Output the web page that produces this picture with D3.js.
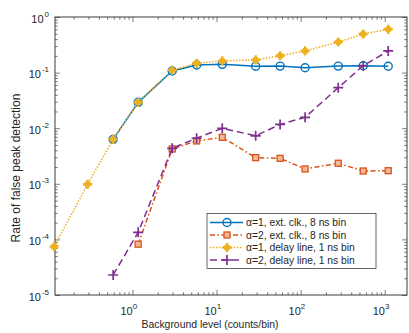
<!DOCTYPE html>
<html><head><meta charset="utf-8">
<script src="https://cdn.jsdelivr.net/npm/d3@7"></script>
<style>
html,body{margin:0;padding:0;background:#fff;}
svg{display:block;font-family:"Liberation Sans",Arial,sans-serif;}
</style></head>
<body>
<svg id="c" width="409" height="333"></svg>
<script>
// ---- data ----
const xAll = [0.117, 0.293, 0.59, 1.17, 2.97, 5.8, 11.7, 29.2, 57, 113, 280, 555, 1100];
const xBlue = xAll.slice(2);
const xOrange = xAll.slice(3);
const xYellow = xAll;
const xPurple = xAll.slice(2);
const yBlue = [0.0063, 0.0292, 0.107, 0.137, 0.141, 0.130, 0.131, 0.122, 0.131, 0.133, 0.130];
const yOrange = [8.2e-5, 0.00423, 0.0059, 0.00686, 0.00295, 0.00287, 0.00185, 0.00234, 0.0017, 0.00172];
const yYellow = [7.4e-5, 0.00098, 0.0063, 0.0292, 0.111, 0.147, 0.162, 0.169, 0.201, 0.245, 0.355, 0.495, 0.601];
const yPurple = [2.29e-5, 1.34e-4, 0.00435, 0.0066, 0.00995, 0.0073, 0.0117, 0.0157, 0.0535, 0.133, 0.245];
const seriesNames = ["α=1, ext. clk., 8 ns bin", "α=2, ext. clk., 8 ns bin", "α=1, delay line, 1 ns bin", "α=2, delay line, 1 ns bin"];
const xTickExps = [0, 1, 2, 3];
const yTickExps = [0, -1, -2, -3, -4, -5];
const xLabel = "Background level (counts/bin)";
const yLabel = "Rate of false peak detection";

// ---- layout ----
const L = 55, R = 407, T = 17, B = 295;
const ink = "#262626";
const svg = d3.select("#c");
const x = d3.scaleLog().domain([0.12, 1840]).range([L, R]);
const y = d3.scaleLog().domain([1e-5, 1]).range([B, T]);

const xMajor = xTickExps.map(e => Math.pow(10, e));
const yMajor = yTickExps.map(e => Math.pow(10, e));
const xMinor = [];
for (let e = -1; e <= 3; e++) for (let k = 2; k <= 9; k++) { const v = k * Math.pow(10, e); if (v >= 0.12 && v <= 1840) xMinor.push(v); }
const yMinor = [];
for (let e = -5; e < 0; e++) for (let k = 2; k <= 9; k++) yMinor.push(k * Math.pow(10, e));

function styleAxis(g) {
  g.select(".domain").remove();
  g.selectAll("line").attr("stroke", ink).attr("stroke-width", 0.6);
  g.selectAll("text").remove();
}
// ticks: bottom, top, left, right (inward)
[[d3.axisBottom, B], [d3.axisTop, T]].forEach(([ax, pos]) => {
  svg.append("g").attr("transform", `translate(0,${pos})`).call(ax(x).tickValues(xMajor).tickSize(-5).tickFormat(() => "")).call(styleAxis);
  svg.append("g").attr("transform", `translate(0,${pos})`).call(ax(x).tickValues(xMinor).tickSize(-2.8).tickFormat(() => "")).call(styleAxis);
});
[[d3.axisLeft, L], [d3.axisRight, R]].forEach(([ax, pos]) => {
  svg.append("g").attr("transform", `translate(${pos},0)`).call(ax(y).tickValues(yMajor).tickSize(-5).tickFormat(() => "")).call(styleAxis);
  svg.append("g").attr("transform", `translate(${pos},0)`).call(ax(y).tickValues(yMinor).tickSize(-2.8).tickFormat(() => "")).call(styleAxis);
});
// box
svg.append("rect").attr("x", L).attr("y", T).attr("width", R - L).attr("height", B - T)
  .attr("fill", "none").attr("stroke", ink).attr("stroke-width", 0.9);

// tick labels
xTickExps.forEach(e => {
  const t = svg.append("text").attr("x", x(Math.pow(10, e)) - 3.7).attr("y", 315)
    .attr("text-anchor", "middle").attr("fill", ink).attr("font-size", 11);
  t.append("tspan").text("10");
  t.append("tspan").attr("dy", -6).attr("font-size", 8).text(e);
});
yTickExps.forEach(e => {
  const t = svg.append("text").attr("x", 49).attr("y", y(Math.pow(10, e)) + 5.5)
    .attr("text-anchor", "end").attr("fill", ink).attr("font-size", 11);
  t.append("tspan").text("10");
  t.append("tspan").attr("dy", -6).attr("font-size", 8).attr("dx", 1).text(e < 0 ? "-" + (-e) : e);
});
// axis labels
svg.append("text").attr("x", 210).attr("y", 327.5).attr("text-anchor", "middle")
  .attr("fill", ink).attr("font-size", 11.5).attr("textLength", 137).attr("lengthAdjust", "spacingAndGlyphs").text(xLabel);
svg.append("text").attr("transform", "translate(19.5,168) rotate(-90)").attr("text-anchor", "middle")
  .attr("fill", ink).attr("font-size", 12).text(yLabel);

// ---- series ----
const series = [
  {xs: xBlue, ys: yBlue, color: "#0072BD", dash: null, marker: "o"},
  {xs: xOrange, ys: yOrange, color: "#D95319", dash: "5,2.5,1.5,2.5", marker: "s"},
  {xs: xYellow, ys: yYellow, color: "#EDB120", dash: "1.5,1.5", marker: "p"},
  {xs: xPurple, ys: yPurple, color: "#7E2F8E", dash: "7,4", marker: "+"}
];
const line = d3.line().x(d => x(d[0])).y(d => y(d[1]));

function drawMarker(g, type, cx, cy, color) {
  if (type === "o") {
    g.append("circle").attr("cx", cx).attr("cy", cy).attr("r", 4).attr("fill", "none").attr("stroke", color).attr("stroke-width", 1.4);
  } else if (type === "s") {
    g.append("rect").attr("x", cx - 3).attr("y", cy - 3).attr("width", 6).attr("height", 6)
      .attr("fill", "#f3b89a").attr("stroke", color).attr("stroke-width", 1.3);
  } else if (type === "p") {
    g.append("circle").attr("cx", cx).attr("cy", cy).attr("r", 3.2).attr("fill", color);
    g.append("path").attr("d", `M${cx - 4.6},${cy}H${cx + 4.6}M${cx},${cy - 4.6}V${cy + 4.6}`)
      .attr("stroke", color).attr("stroke-width", 2.4);
  } else if (type === "+") {
    g.append("path").attr("d", `M${cx - 5},${cy}H${cx + 5}M${cx},${cy - 5}V${cy + 5}`)
      .attr("stroke", color).attr("stroke-width", 1.7);
  }
}

series.forEach(s => {
  const g = svg.append("g");
  const pts = s.xs.map((v, i) => [v, s.ys[i]]);
  g.append("path").attr("d", line(pts)).attr("fill", "none").attr("stroke", s.color)
    .attr("stroke-width", 1.5).attr("stroke-dasharray", s.dash);
  pts.forEach(p => drawMarker(g, s.marker, x(p[0]), y(p[1]), s.color));
});

// ---- legend ----
const lg = svg.append("g");
lg.append("rect").attr("x", 207).attr("y", 213.5).attr("width", 169).attr("height", 55)
  .attr("fill", "#fff").attr("stroke", ink).attr("stroke-width", 0.7);
series.forEach((s, i) => {
  const cy = 222.5 + i * 12.5;
  lg.append("line").attr("x1", 210).attr("x2", 243).attr("y1", cy).attr("y2", cy)
    .attr("stroke", s.color).attr("stroke-width", 1.5).attr("stroke-dasharray", s.dash);
  drawMarker(lg, s.marker, 227, cy, s.color);
  lg.append("text").attr("x", 246).attr("y", cy + 3.7).attr("fill", ink).attr("font-size", 10.3).text(seriesNames[i]);
});
</script>
</body></html>
